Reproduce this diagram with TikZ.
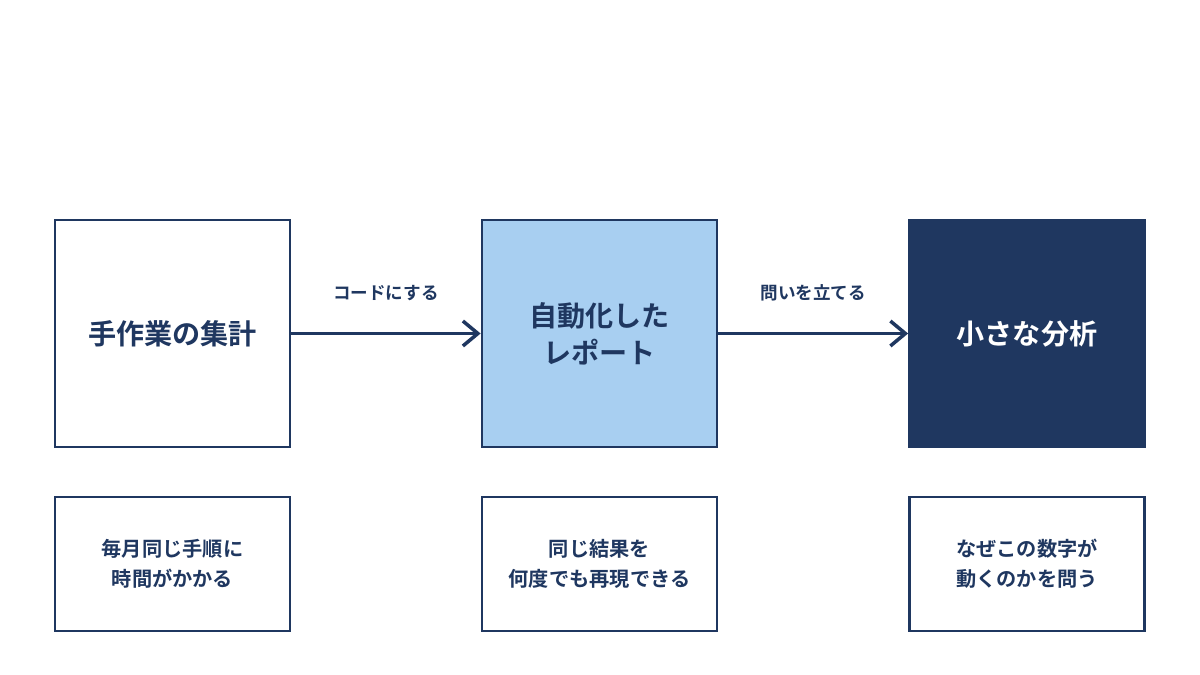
\documentclass[tikz,border=0pt]{standalone}
\usepackage{fontspec}
\setmainfont{Noto Sans CJK JP}[BoldFont={Noto Sans CJK JP Bold}]
\usetikzlibrary{arrows.meta,positioning}
\definecolor{navy}{HTML}{1F3760}
\definecolor{skyblue}{HTML}{A8CFF1}

\begin{document}
\begin{tikzpicture}[x=0.02cm, y=-0.02cm,
		stage/.style={draw=navy, line width=1.6pt, minimum width=4.7cm, minimum height=4.54cm, align=center, font=\fontsize{16}{21}\selectfont\bfseries, text=navy},
		note/.style={draw=navy, line width=1.6pt, minimum width=4.7cm, minimum height=2.68cm, align=center, font=\fontsize{11.5}{17}\selectfont\bfseries, text=navy},
		flow/.style={navy, line width=2pt, -{Straight Barb[length=3mm, width=5mm]}},
	]
		\fill[white] (0,0) rectangle (1200,675);

		\node[stage] (manual) at (172.5,333.5) {手作業の集計};
		\node[stage, fill=skyblue] (report) at (599.5,333.5) {自動化した\\レポート};
		\node[stage, fill=navy, text=white] (analysis) at (1027,333.5) {小さな分析};

		\node[note] (manualnote) at (172.5,564) {毎月同じ手順に\\時間がかかる};
		\node[note] (reportnote) at (599.5,564) {同じ結果を\\何度でも再現できる};
		\node[note] (analysisnote) at (1027,564) {なぜこの数字が\\動くのかを問う};

		\draw[flow] (manual) -- (report) node[midway, above=0.5cm, text=navy, font=\fontsize{10}{12}\selectfont\bfseries] {コードにする};
		\draw[flow] (report) -- (analysis) node[midway, above=0.5cm, text=navy, font=\fontsize{10}{12}\selectfont\bfseries] {問いを立てる};
	\end{tikzpicture}
\end{document}
